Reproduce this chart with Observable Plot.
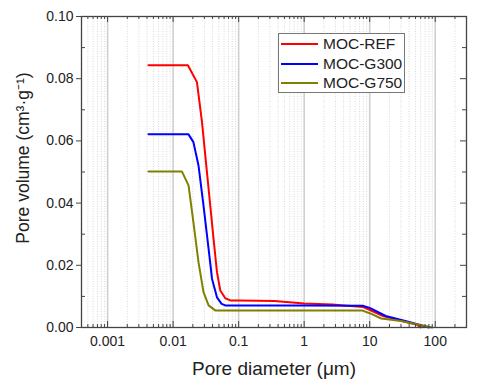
<!DOCTYPE html>
<html><head><meta charset="utf-8">
<script src="https://cdn.jsdelivr.net/npm/d3@7"></script>
<script src="https://cdn.jsdelivr.net/npm/@observablehq/plot@0.6"></script>
<style>
body{margin:0;background:#fff;font-family:"Liberation Sans",Arial,sans-serif;}
#wrap{position:relative;width:487px;height:388px;}
#legend{position:absolute;left:278px;top:33px;width:127px;height:60px;border:1px solid #777;background:#fff;box-sizing:border-box;}
.item{position:absolute;left:0;height:20px;display:flex;align-items:center;font-size:15.5px;color:#222;white-space:nowrap;}
.item span.sw{display:inline-block;width:37px;height:2px;margin-left:2px;margin-right:5px;}
</style></head><body><div id="wrap"></div>
<script>
const seriesNames = ["MOC-REF", "MOC-G300", "MOC-G750"];
const seriesColors = ["#ff0000", "#0000ff", "#808000"];

const refDiameter = [0.0042, 0.0168, 0.0231, 0.0276, 0.0348, 0.0414, 0.0467, 0.0525, 0.0626, 0.0745, 0.1, 0.35, 1, 2.7, 4, 8, 16, 30, 53, 60];
const refVolume   = [0.0843, 0.0843, 0.0789, 0.066, 0.0446, 0.0285, 0.0178, 0.0119, 0.0094, 0.0087, 0.0087, 0.0085, 0.0077, 0.0074, 0.0071, 0.0066, 0.0037, 0.0022, 0.0009, 0.0];

const g300Diameter = [0.0042, 0.0172, 0.0204, 0.0244, 0.0291, 0.0348, 0.0392, 0.0467, 0.055, 0.0626, 0.1, 1, 7.8, 10, 17.6, 40, 80];
const g300Volume   = [0.0621, 0.0621, 0.0596, 0.0521, 0.0392, 0.0253, 0.0157, 0.0097, 0.0076, 0.0071, 0.0071, 0.0071, 0.0070, 0.0063, 0.0037, 0.0018, 0.0];

const g750Diameter = [0.0042, 0.0136, 0.0172, 0.0204, 0.0244, 0.0291, 0.0348, 0.0439, 0.1, 1, 7.6, 10, 15, 30, 50, 90];
const g750Volume   = [0.0502, 0.0502, 0.0457, 0.0339, 0.021, 0.0114, 0.0071, 0.0055, 0.0055, 0.0055, 0.0055, 0.0046, 0.0029, 0.0021, 0.0011, 0.0];

const xTickValues = [0.001, 0.01, 0.1, 1, 10, 100];
const xTickLabels = ["0.001", "0.01", "0.1", "1", "10", "100"];
const yTickValues = [0, 0.02, 0.04, 0.06, 0.08, 0.10];
const yTickLabels = ["0.00", "0.02", "0.04", "0.06", "0.08", "0.10"];
const yMinorValues = [0.01, 0.03, 0.05, 0.07, 0.09];
const xLabel = "Pore diameter (μm)";
const yLabel = "Pore volume (cm³·g⁻¹)";

const W = 487, H = 388, mL = 81, mR = 21, mT = 16, mB = 61;
const innerW = W - mL - mR, innerH = H - mT - mB;
const xDomain = [0.0004, 300];

const xMinor = [];
for (let e = -4; e <= 2; e++) for (let k = 2; k <= 9; k++) {
  const v = k * Math.pow(10, e);
  if (v >= xDomain[0] && v <= xDomain[1]) xMinor.push(v);
}

const rows = [];
[[refDiameter, refVolume], [g300Diameter, g300Volume], [g750Diameter, g750Volume]].forEach(([ds, vs], i) => {
  ds.forEach((d, j) => rows.push({series: seriesNames[i], d, v: vs[j]}));
});
const xTicks = xTickValues.map((v, i) => ({v, label: xTickLabels[i]}));
const yTicks = yTickValues.map((v, i) => ({v, label: yTickLabels[i]}));

const chart = Plot.plot({
  width: W, height: H,
  marginLeft: mL, marginRight: mR, marginTop: mT, marginBottom: mB,
  style: {fontFamily: "'Liberation Sans', Arial, sans-serif", color: "#222", background: "#fff"},
  x: {type: "log", domain: xDomain, axis: null},
  y: {domain: [0, 0.1], axis: null},
  color: {domain: seriesNames, range: seriesColors},
  marks: [
    Plot.ruleX(xMinor, {stroke: "#cfcfcf", strokeWidth: 0.8, strokeDasharray: "1,1.5"}),
    Plot.ruleX(xTickValues, {stroke: "#d0d0d0", strokeWidth: 1.6}),
    Plot.line(rows, {x: "d", y: "v", z: "series", stroke: "series", strokeWidth: 2}),
    Plot.frame({stroke: "#444", strokeWidth: 1.3}),
    Plot.ruleX(xTickValues, {stroke: "#444", insetTop: innerH - 6}),
    Plot.ruleX(xMinor, {stroke: "#444", insetTop: innerH - 3}),
    Plot.ruleX(xTickValues, {stroke: "#444", insetBottom: innerH - 6}),
    Plot.ruleX(xMinor, {stroke: "#444", insetBottom: innerH - 3}),
    Plot.ruleY(yMinorValues, {stroke: "#444", insetRight: innerW - 4}),
    Plot.ruleY(yMinorValues, {stroke: "#444", insetLeft: innerW - 4}),
    Plot.ruleY(yTickValues, {stroke: "#444", insetLeft: innerW - 6}),
    Plot.tickY(yTickValues, {stroke: "#444", dx: -5, insetRight: innerW - 5}),
    Plot.text(xTicks, {x: "v", text: "label", frameAnchor: "bottom", lineAnchor: "middle", dy: 14, fontSize: 14, fill: "#222"}),
    Plot.text(yTicks, {y: "v", text: "label", frameAnchor: "left", textAnchor: "end", dx: -8, fontSize: 14, fill: "#222"}),
    Plot.text([xLabel], {frameAnchor: "bottom", lineAnchor: "middle", dy: 41, fontSize: 19, fill: "#222"}),
    Plot.text([yLabel], {frameAnchor: "left", textAnchor: "middle", lineAnchor: "middle", rotate: -90, dx: -58, dy: -14, fontSize: 17.5, fill: "#222"})
  ]
});

const wrap = document.getElementById("wrap");
wrap.appendChild(chart);
const legend = document.createElement("div");
legend.id = "legend";
seriesNames.forEach((name, i) => {
  const item = document.createElement("div");
  item.className = "item";
  item.style.top = (i * 19.5) + "px";
  const sw = document.createElement("span");
  sw.className = "sw";
  sw.style.background = seriesColors[i];
  item.appendChild(sw);
  item.appendChild(document.createTextNode(name));
  legend.appendChild(item);
});
wrap.appendChild(legend);
</script></body></html>
